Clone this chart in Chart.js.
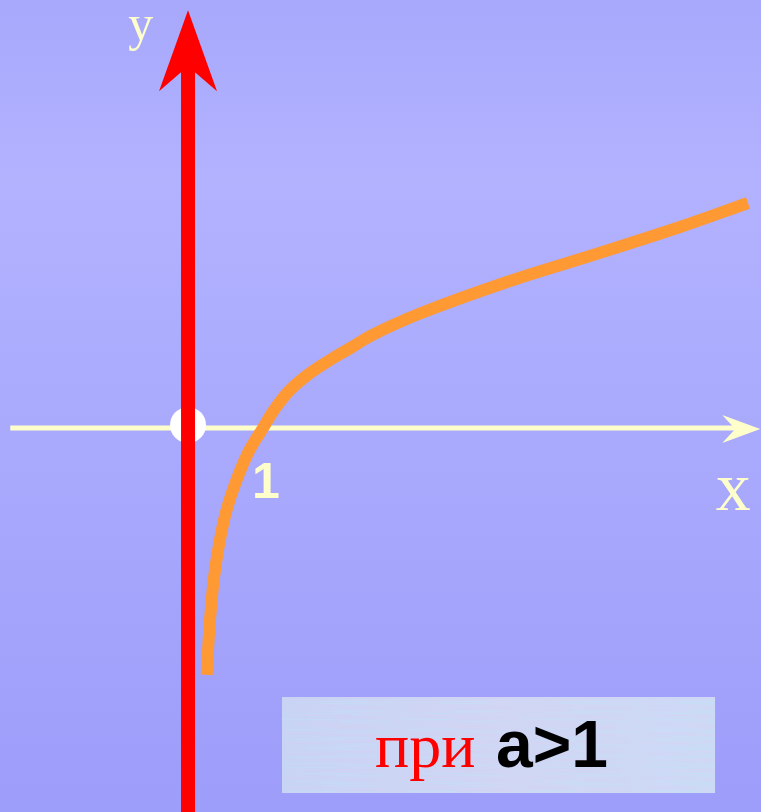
<!DOCTYPE html>
<html>
<head>
<meta charset="utf-8">
<script src="https://cdn.jsdelivr.net/npm/chart.js@4.4.1/dist/chart.umd.min.js"></script>
<style>
  html, body { margin: 0; padding: 0; background: #aaaaff; }
  #wrap { width: 761px; height: 812px; position: relative; }
</style>
</head>
<body>
<div id="wrap"><canvas id="logChart"></canvas></div>
<script>
// кривая y = log_a x, точки (1 деление = отрезок 0..1)
const curveX = [0.249, 0.293, 0.36, 0.48, 0.613, 0.80, 1.00, 1.147, 1.36, 1.627, 1.893, 2.187, 2.453, 3.093, 4.253, 5.40, 6.56, 7.467];
const curveY = [-3.293, -2.56, -1.893, -1.227, -0.787, -0.333, 0, 0.24, 0.507, 0.733, 0.907, 1.08, 1.24, 1.527, 1.947, 2.307, 2.68, 3.00];

// оси
const xAxisX = [-2.37, 7.30];
const xAxisTip = 7.63;
const yAxisY = [-5.2, 4.9];
const yAxisTip = 5.57;
const originPoint = [0, 0];

// подписи
const yLabel = 'у';
const xLabel = 'х';
const unitLabel = '1';
const noteWord = 'при';
const noteCond = 'a>1';

const scaleX = [-2.507, 7.64];
const scaleY = [-5.12, 5.707];

// фон страницы
const bgPlugin = {
    id: 'bg',
    beforeDraw(chart) {
        const ctx = chart.ctx;
        const g = ctx.createLinearGradient(0, 0, 0, chart.height);
        g.addColorStop(0, 'rgb(168,168,252)');
        g.addColorStop(0.22, 'rgb(178,178,255)');
        g.addColorStop(1, 'rgb(157,157,250)');
        ctx.save();
        ctx.fillStyle = g;
        ctx.fillRect(0, 0, chart.width, chart.height);
        ctx.restore();
    }
};

// стрелки и подписи
const decorPlugin = {
    id: 'decor',
    afterDatasetsDraw(chart) {
        const ctx = chart.ctx;
        const sx = chart.scales.x, sy = chart.scales.y;
        const ox = sx.getPixelForValue(0), oy = sy.getPixelForValue(0);

        ctx.save();
        // стрелка оси y
        const ty = sy.getPixelForValue(yAxisTip);
        ctx.fillStyle = '#ff0000';
        ctx.beginPath();
        ctx.moveTo(ox, ty);
        ctx.lineTo(ox + 29, ty + 81);
        ctx.lineTo(ox, ty + 56);
        ctx.lineTo(ox - 29, ty + 81);
        ctx.closePath();
        ctx.fill();

        // стрелка оси x
        const tx = sx.getPixelForValue(xAxisTip);
        ctx.fillStyle = '#ffffcc';
        ctx.beginPath();
        ctx.moveTo(tx, oy + 1);
        ctx.lineTo(tx - 38, oy - 13);
        ctx.lineTo(tx - 25, oy + 1);
        ctx.lineTo(tx - 38, oy + 15);
        ctx.closePath();
        ctx.fill();

        // подписи осей
        ctx.fillStyle = '#ffffcc';
        ctx.textAlign = 'center';
        ctx.textBaseline = 'alphabetic';
        ctx.font = '50px "Liberation Serif", serif';
        ctx.fillText(yLabel, sx.getPixelForValue(-0.63), sy.getPixelForValue(5.17));
        ctx.font = '70px "Liberation Serif", serif';
        ctx.fillText(xLabel, sx.getPixelForValue(7.27), sy.getPixelForValue(-1.09));
        ctx.font = 'bold 50px "Liberation Sans", Arial, sans-serif';
        ctx.fillText(unitLabel, sx.getPixelForValue(1.04), sy.getPixelForValue(-0.93));

        // табличка «при a>1»
        const bx1 = sx.getPixelForValue(1.253), bx2 = sx.getPixelForValue(7.027);
        const by1 = sy.getPixelForValue(-3.587), by2 = sy.getPixelForValue(-4.867);
        const bg = ctx.createLinearGradient(bx1, 0, bx2, 0);
        bg.addColorStop(0, 'rgb(200,212,244)');
        bg.addColorStop(0.5, 'rgb(208,214,244)');
        bg.addColorStop(1, 'rgb(204,218,246)');
        ctx.fillStyle = bg;
        ctx.fillRect(bx1, by1, bx2 - bx1, by2 - by1);
        // лёгкая «мраморная» штриховка
        for (let yy = by1; yy < by2; yy += 2) {
            const k = Math.sin(yy * 0.7) * 0.5 + 0.5;
            ctx.fillStyle = k > 0.5 ? 'rgba(190,225,245,0.35)' : 'rgba(225,205,240,0.30)';
            const off = (Math.sin(yy * 1.3) * 0.5 + 0.5) * 60;
            for (let xx = bx1 + off; xx < bx2; xx += 120) {
                ctx.fillRect(xx, yy, Math.min(50, bx2 - xx), 1);
            }
        }
        ctx.textAlign = 'left';
        ctx.fillStyle = '#ff0000';
        ctx.font = '64px "Liberation Serif", serif';
        ctx.fillText(noteWord, bx1 + 93, by1 + 70);
        ctx.fillStyle = '#000000';
        ctx.font = 'bold 66px "Liberation Sans", Arial, sans-serif';
        ctx.fillText(noteCond, bx1 + 214, by1 + 70);
        ctx.restore();
    }
};

const ctx = document.getElementById('logChart').getContext('2d');
const logChart = new Chart(ctx, {
    type: 'line',
    data: {
        datasets: [
            {
                // кривая логарифма
                data: curveX.map((x, i) => ({ x: x, y: curveY[i] })),
                borderColor: '#ff9933',
                borderWidth: 12,
                pointRadius: 0,
                tension: 0.4,
                fill: false,
                order: 0
            },
            {
                // ось y
                data: yAxisY.map(y => ({ x: 0, y: y })),
                borderColor: '#ff0000',
                borderWidth: 14,
                pointRadius: 0,
                order: 1
            },
            {
                // кружок в начале координат
                data: [{ x: originPoint[0], y: originPoint[1] + 0.04 }],
                showLine: false,
                pointRadius: 18,
                pointBackgroundColor: '#ffffff',
                pointBorderWidth: 0,
                order: 2
            },
            {
                // ось x
                data: xAxisX.map(x => ({ x: x, y: 0 })),
                borderColor: '#ffffcc',
                borderWidth: 5,
                pointRadius: 0,
                order: 3
            }
        ]
    },
    options: {
        responsive: true,
        maintainAspectRatio: false,
        animation: false,
        layout: { padding: 0, autoPadding: false },
        scales: {
            x: { type: 'linear', min: scaleX[0], max: scaleX[1], display: false },
            y: { type: 'linear', min: scaleY[0], max: scaleY[1], display: false }
        },
        plugins: {
            legend: { display: false },
            tooltip: { enabled: false }
        }
    },
    plugins: [bgPlugin, decorPlugin]
});
</script>
</body>
</html>
